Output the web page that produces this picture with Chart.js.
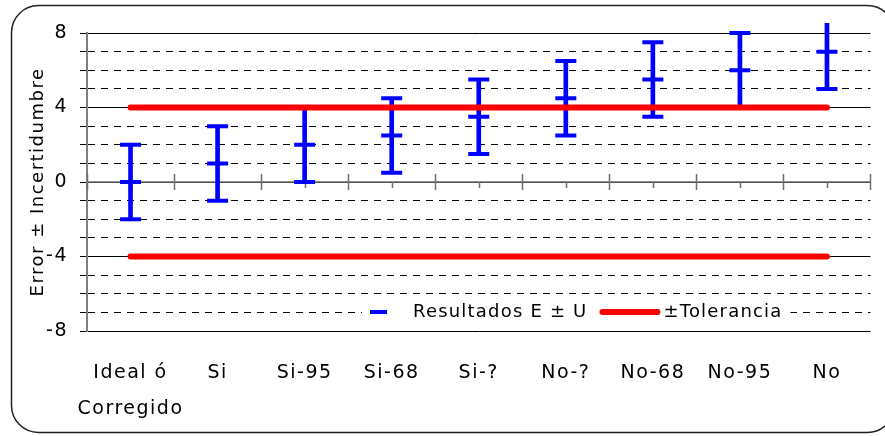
<!DOCTYPE html>
<html><head><meta charset="utf-8">
<script src="https://cdn.jsdelivr.net/npm/chart.js@4/dist/chart.umd.min.js"></script>
<style>html,body{margin:0;padding:0;background:#fff}#wrap{width:885px;height:436px;position:relative}</style>
</head><body><div id="wrap"><canvas id="c" width="885" height="436"></canvas></div>
<script>
const categories = [['Ideal ó','Corregido'],'Si','Si-95','Si-68','Si-?','No-?','No-68','No-95','No'];
const errorValues = [0, 1, 2, 2.5, 3.5, 4.5, 5.5, 6, 7];
const lowerBounds = [-2, -1, 0, 0.5, 1.5, 2.5, 3.5, 4, 5];
const upperBounds = [2, 3, 4, 4.5, 5.5, 6.5, 7.5, 8, 9];
const toleranceUpper = [4, 4, 4, 4, 4, 4, 4, 4, 4];
const toleranceLower = [-4, -4, -4, -4, -4, -4, -4, -4, -4];
const yTickLabels = ['-8', '-4', '0', '4', '8'];
const seriesLabels = ['Resultados E ± U', '±Tolerancia'];
const axisTitle = 'Error ± Incertidumbre';

const BLUE = '#0000ff', RED = '#ff0000';
const FONT = 'DejaVu Sans';
const SPACING = '1.5px';

const framePlugin = {
  id: 'frame',
  beforeLayout(chart) { chart.ctx.letterSpacing = SPACING; },
  beforeDraw(chart) {
    const ctx = chart.ctx;
    ctx.letterSpacing = SPACING;
    ctx.save();
    ctx.fillStyle = '#fff';
    ctx.fillRect(0, 0, chart.width, chart.height);
    ctx.strokeStyle = '#222';
    ctx.lineWidth = 1.5;
    ctx.beginPath();
    ctx.roundRect(11.5, 5.5, 883, 427, 27);
    ctx.stroke();
    ctx.restore();
  }
};

const zeroAxisPlugin = {
  id: 'zeroAxis',
  beforeDatasetsDraw(chart) {
    const ctx = chart.ctx, xs = chart.scales.x, ys = chart.scales.y, ca = chart.chartArea;
    const y0 = ys.getPixelForValue(0);
    const n = categories.length;
    const w = xs.getPixelForValue(1) - xs.getPixelForValue(0);
    ctx.save();
    ctx.strokeStyle = '#6e6e6e';
    ctx.lineWidth = 1.5;
    ctx.beginPath();
    ctx.moveTo(ca.left, y0); ctx.lineTo(ca.right, y0);
    for (let i = 0; i <= n; i++) {
      const bx = Math.round(xs.getPixelForValue(0) - w / 2 + i * w) + 0.5;
      ctx.moveTo(bx, y0 - 8); ctx.lineTo(bx, y0 + 8);
    }
    for (let i = 0; i < n; i++) {
      const cx = Math.round(xs.getPixelForValue(i)) + 0.5;
      ctx.moveTo(cx, y0); ctx.lineTo(cx, y0 + 6);
    }
    ctx.stroke();
    ctx.restore();
  }
};

const legendPlugin = {
  id: 'insideLegend',
  afterDatasetsDraw(chart) {
    const ctx = chart.ctx, ys = chart.scales.y, ca = chart.chartArea;
    const ly = Math.round(ys.getPixelForValue(-7));
    const left = ca.left + 275;
    ctx.save();
    ctx.font = '18px "' + FONT + '"';
    ctx.letterSpacing = '1.2px';
    ctx.textBaseline = 'middle';
    const w1 = ctx.measureText(seriesLabels[0]).width;
    const w2 = ctx.measureText(seriesLabels[1]).width;
    const total = 8 + 43 + w1 + 15 + 61 + w2 + 8;
    ctx.fillStyle = '#fff';
    ctx.fillRect(left, ly - 10, total, 20);
    ctx.fillStyle = '#000';
    let x = left + 8;
    ctx.strokeStyle = BLUE; ctx.lineWidth = 4; ctx.lineCap = 'butt';
    ctx.beginPath(); ctx.moveTo(x, ly); ctx.lineTo(x + 17, ly); ctx.stroke();
    x += 43;
    ctx.fillText(seriesLabels[0], x, ly);
    x += w1 + 15;
    ctx.strokeStyle = RED; ctx.lineWidth = 6; ctx.lineCap = 'round';
    ctx.beginPath(); ctx.moveTo(x, ly); ctx.lineTo(x + 55, ly); ctx.stroke();
    x += 61;
    ctx.fillText(seriesLabels[1], x, ly);
    ctx.restore();
  }
};

const capStyle = {
  type: 'line', showLine: false, pointStyle: 'line', pointRadius: 10.5, pointHoverRadius: 10.5,
  pointBorderWidth: 4, pointBorderColor: BLUE, borderColor: BLUE, backgroundColor: BLUE,
  clip: {left: 20, top: 10, right: 20, bottom: 10}
};

new Chart(document.getElementById('c'), {
  type: 'bar',
  data: {
    labels: categories,
    datasets: [
      { type: 'line', label: seriesLabels[1], data: toleranceUpper, borderColor: RED, borderWidth: 6,
        borderCapStyle: 'round', pointRadius: 0, fill: false },
      { type: 'line', label: seriesLabels[1], data: toleranceLower, borderColor: RED, borderWidth: 6,
        borderCapStyle: 'round', pointRadius: 0, fill: false },
      Object.assign({ label: seriesLabels[0], data: errorValues }, capStyle),
      Object.assign({ label: 'lower', data: lowerBounds }, capStyle),
      Object.assign({ label: 'upper', data: upperBounds }, capStyle),
      { type: 'bar', label: 'range', data: lowerBounds.map((l, i) => [l, upperBounds[i]]),
        backgroundColor: BLUE, borderWidth: 0, barThickness: 4,
        clip: {left: 0, top: 10, right: 0, bottom: 0} }
    ]
  },
  options: {
    responsive: false,
    animation: false,
    devicePixelRatio: 1,
    layout: { padding: { top: 33, left: 0, right: 2, bottom: 0 } },
    plugins: { legend: { display: false }, tooltip: { enabled: false } },
    scales: {
      x: {
        type: 'category',
        offset: true,
        grid: { display: false },
        border: { display: false },
        ticks: { color: '#000', font: { family: FONT, size: 19, lineHeight: 1.9 }, padding: 16,
                 autoSkip: false, maxRotation: 0, minRotation: 0 },
        afterFit(s) { s.height = 105; }
      },
      y: {
        type: 'linear',
        min: -8, max: 8,
        ticks: {
          stepSize: 1, autoSkip: false, maxTicksLimit: 40, color: '#000', padding: 12,
          font: { family: FONT, size: 19 },
          callback: (v) => yTickLabels.includes(String(v)) ? String(v) : ''
        },
        grid: { color: '#000', lineWidth: 1, tickLength: 7, tickColor: '#000', tickWidth: 1 },
        border: { display: true, color: '#808080', width: 2,
                  dash: (c) => (c.tick && c.tick.value % 4 !== 0) ? [7, 6] : [] },
        title: { display: true, text: axisTitle, color: '#000',
                 font: { family: FONT, size: 18 }, padding: { top: 28, bottom: 0 } },
        afterFit(s) { s.width = 87; }
      }
    }
  },
  plugins: [framePlugin, zeroAxisPlugin, legendPlugin]
});
</script>
</body></html>
